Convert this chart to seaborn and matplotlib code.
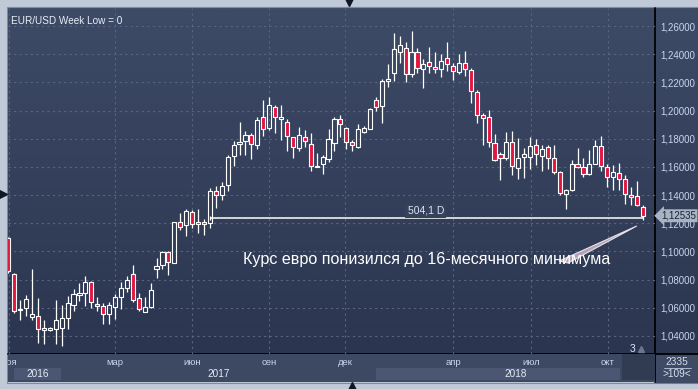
import numpy as np
import pandas as pd
import seaborn as sns
import matplotlib.pyplot as plt
from matplotlib.patches import Rectangle, Polygon
from matplotlib.colors import LinearSegmentedColormap
from matplotlib.transforms import blended_transform_factory

# weekly EUR/USD candles
opens = [
    1.1095, 1.0838, 1.0588, 1.0597, 1.0533, 1.0542, 1.0440, 1.0441, 1.0452, 1.0459,
    1.0526, 1.0618, 1.0693, 1.0707, 1.0780, 1.0626, 1.0616, 1.0554, 1.0609, 1.0675,
    1.0738, 1.0842, 1.0668, 1.0572, 1.0604, 1.0878, 1.0902, 1.0994, 1.0920, 1.1207,
    1.1187, 1.1282, 1.1197, 1.1207, 1.1200, 1.1427, 1.1398, 1.1469, 1.1675, 1.1763,
    1.1786, 1.1824, 1.1753, 1.1952, 1.1878, 1.2023, 1.1942, 1.1921, 1.1809, 1.1736,
    1.1809, 1.1760, 1.1597, 1.1618, 1.1658, 1.1768, 1.1938, 1.1874, 1.1775, 1.1743,
    1.1850, 1.1871, 1.2075, 1.2034, 1.2208, 1.2264, 1.2418, 1.2442, 1.2257, 1.2418,
    1.2293, 1.2347, 1.2311, 1.2293, 1.2371, 1.2318, 1.2276, 1.2335, 1.2288, 1.2129,
    1.1966, 1.1952, 1.1768, 1.1689, 1.1661, 1.1775, 1.1594, 1.1672, 1.1672, 1.1753,
    1.1679, 1.1739, 1.1661, 1.1566, 1.1410, 1.1438, 1.1623, 1.1600, 1.1551, 1.1624,
    1.1750, 1.1601, 1.1530, 1.1555, 1.1514, 1.1400, 1.1394, 1.1318]
closes = [
    1.0860, 1.0580, 1.0592, 1.0662, 1.0554, 1.0447, 1.0455, 1.0455, 1.0511, 1.0528,
    1.0636, 1.0696, 1.0703, 1.0780, 1.0641, 1.0611, 1.0558, 1.0618, 1.0675, 1.0738,
    1.0797, 1.0655, 1.0590, 1.0608, 1.0724, 1.0895, 1.0994, 1.0927, 1.1207, 1.1176,
    1.1286, 1.1197, 1.1207, 1.1193, 1.1427, 1.1398, 1.1467, 1.1668, 1.1753, 1.1777,
    1.1824, 1.1760, 1.1931, 1.1867, 1.2037, 1.1952, 1.1952, 1.1819, 1.1738, 1.1824,
    1.1782, 1.1609, 1.1604, 1.1668, 1.1795, 1.1938, 1.1903, 1.1775, 1.1753, 1.1867,
    1.1874, 1.2009, 1.2027, 1.2210, 1.2222, 1.2435, 1.2465, 1.2257, 1.2413, 1.2300,
    1.2328, 1.2316, 1.2295, 1.2354, 1.2328, 1.2283, 1.2335, 1.2293, 1.2139, 1.1966,
    1.1945, 1.1775, 1.1649, 1.1661, 1.1775, 1.1609, 1.1661, 1.1689, 1.1748, 1.1689,
    1.1725, 1.1661, 1.1566, 1.1413, 1.1438, 1.1623, 1.1600, 1.1551, 1.1624, 1.1747,
    1.1610, 1.1530, 1.1561, 1.1514, 1.1405, 1.1388, 1.1330, 1.12535]
highs = [
    1.1100, 1.0845, 1.0656, 1.0690, 1.0875, 1.0672, 1.0513, 1.0464, 1.0656, 1.0620,
    1.0684, 1.0731, 1.0774, 1.0826, 1.0792, 1.0675, 1.0632, 1.0643, 1.0698, 1.0781,
    1.0826, 1.0904, 1.0703, 1.0675, 1.0778, 1.0951, 1.1005, 1.1005, 1.1210, 1.1271,
    1.1298, 1.1293, 1.1298, 1.1228, 1.1448, 1.1464, 1.1491, 1.1682, 1.1784, 1.1917,
    1.1855, 1.1843, 1.1952, 1.2075, 1.2098, 1.2039, 1.2039, 1.1938, 1.1814, 1.1881,
    1.1862, 1.1838, 1.1697, 1.1685, 1.1869, 1.1952, 1.1968, 1.1886, 1.1791, 1.1905,
    1.1891, 1.2020, 1.2098, 1.2222, 1.2330, 1.2548, 1.2529, 1.2484, 1.2564, 1.2442,
    1.2364, 1.2449, 1.2418, 1.2400, 1.2484, 1.2335, 1.2401, 1.2423, 1.2300, 1.2146,
    1.1980, 1.2004, 1.1834, 1.1708, 1.1848, 1.1857, 1.1803, 1.1732, 1.1814, 1.1798,
    1.1755, 1.1753, 1.1755, 1.1570, 1.1446, 1.1650, 1.1734, 1.1660, 1.1721, 1.1788,
    1.1820, 1.1620, 1.1613, 1.1625, 1.1545, 1.1460, 1.1500, 1.1330]
lows = [
    1.0850, 1.0560, 1.0514, 1.0544, 1.0513, 1.0352, 1.0343, 1.0438, 1.0343, 1.0331,
    1.0450, 1.0577, 1.0650, 1.0613, 1.0600, 1.0580, 1.0485, 1.0485, 1.0518, 1.0594,
    1.0714, 1.0643, 1.0577, 1.0568, 1.0596, 1.0814, 1.0873, 1.0833, 1.0918, 1.1152,
    1.1108, 1.1163, 1.1129, 1.1117, 1.1164, 1.1310, 1.1365, 1.1429, 1.1606, 1.1687,
    1.1684, 1.1658, 1.1729, 1.1819, 1.1862, 1.1838, 1.1791, 1.1715, 1.1665, 1.1713,
    1.1743, 1.1571, 1.1597, 1.1550, 1.1637, 1.1715, 1.1810, 1.1727, 1.1715, 1.1736,
    1.1843, 1.1867, 1.1997, 1.1914, 1.2169, 1.2212, 1.2340, 1.2205, 1.2240, 1.2264,
    1.2158, 1.2269, 1.2264, 1.2240, 1.2281, 1.2217, 1.2259, 1.2247, 1.2056, 1.1914,
    1.1756, 1.1743, 1.1645, 1.1507, 1.1649, 1.1543, 1.1512, 1.1523, 1.1585, 1.1613,
    1.1571, 1.1583, 1.1550, 1.1400, 1.1301, 1.1429, 1.1590, 1.1527, 1.1540, 1.1620,
    1.1570, 1.1460, 1.1436, 1.1436, 1.1336, 1.1330, 1.1320, 1.1224]

price_ticks = [1.04, 1.06, 1.08, 1.10, 1.12, 1.14, 1.16, 1.18, 1.20, 1.22, 1.24, 1.26]
month_pos = [0.1, 18.0, 31.0, 44.0, 56.8, 75.0, 88.1, 101.1]
month_labels = ['ноя', 'мар', 'июн', 'сен', 'дек', 'апр', 'июл', 'окт']
year_labels = ['2016', '2017', '2018']
year_pos = [4.9, 35.5, 85.6]

last_price = 1.12535
level_price = 1.1238
level_start, level_end = 34, 107
level_label = '504,1 D'
title = 'EUR/USD Week Low = 0'
note = 'Курс евро понизился до 16-месячного минимума'

df = pd.DataFrame({'open': opens, 'high': highs, 'low': lows, 'close': closes})
df['x'] = np.arange(len(df))
df['top'] = df[['open', 'close']].max(axis=1)
df['bottom'] = df[['open', 'close']].min(axis=1)
df['up'] = df['close'] >= df['open']

sns.set_theme(style='dark')
plt.rcParams['font.family'] = ['Liberation Sans', 'DejaVu Sans']

W, H = 698, 389
fig = plt.figure(figsize=(W / 100, H / 100), dpi=100)

# background / frame in pixel coordinates
bg = fig.add_axes([0, 0, 1, 1])
bg.axis('off')
bg.add_patch(Rectangle((0, 0), W, H, color='#bfc9d7', zorder=0))
grad = np.linspace(0, 1, 256)[:, None]
cmap = LinearSegmentedColormap.from_list('panel', ['#3e4b66', '#2b3550'])
bg.imshow(grad, cmap=cmap, extent=(8, W, 354, 8), aspect='auto', zorder=1)
bg.add_patch(Rectangle((7, 7), W - 6, 376, fill=False, ec='#7f8a9c', lw=0.8, zorder=2))
bg.add_patch(Rectangle((655, 354), 43, 28, color='#3f4b64', zorder=2))
bg.plot([655, 655], [8, 382], color='black', lw=1.3, zorder=5)
bg.plot([8, W], [354, 354], color='black', lw=1.3, zorder=5)
bg.text(677, 362, '2335', color='#d3def0', fontsize=7.3, ha='center', va='center', zorder=6)
bg.plot([664, 691], [367.5, 367.5], color='#c0cbe0', lw=0.6, zorder=6)
bg.text(677, 374, '>109<', color='#d3def0', fontsize=7.3, ha='center', va='center', zorder=6)
bg.text(633, 349, '3', color='#dfe6f2', fontsize=7.5, ha='center', va='center', zorder=6)
bg.plot([641], [348.5], marker='^', ms=5, color='#6b778e', zorder=6)
bg.plot([349], [1.5], marker='v', ms=6, color='#101623', zorder=6)
bg.plot([352], [386], marker='^', ms=6, color='#101623', zorder=6)
bg.plot([3], [194], marker='>', ms=6, color='#101623', zorder=6)
bg.set_xlim(0, W)
bg.set_ylim(H, 0)

# main price axes
ax = fig.add_axes([8 / W, 1 - 354 / H, 647 / W, 346 / H])
ax.set_facecolor('none')
for s in ax.spines.values():
    s.set_visible(False)

colors = np.where(df['up'], 'none', '#e3163f')
ax.vlines(df['x'], df['top'], df['high'], color='white', lw=0.9, zorder=3)
ax.vlines(df['x'], df['low'], df['bottom'], color='white', lw=0.9, zorder=3)
ax.bar(df['x'], df['top'] - df['bottom'], bottom=df['bottom'], width=0.7,
       color=colors, edgecolor='white', linewidth=0.8, zorder=4)

ax.hlines(level_price, level_start, level_end, color='white', lw=1.1, zorder=5)
ax.vlines(level_start, level_price - 0.0015, level_price + 0.0015, color='white', lw=0.9, zorder=5)
ax.text((level_start + level_end) / 2 - 0.1, level_price + 0.0050, level_label,
        color='#dbe4f3', fontsize=7.5, ha='center', va='center', zorder=6,
        bbox=dict(boxstyle='square,pad=0.2', fc='#36425b', ec='none'))

ax.set_xlim(-0.05, 109.06)
ax.set_ylim(1.02722, 1.27278)
ax.set_xticks(month_pos)
ax.set_yticks(price_ticks)
ax.yaxis.tick_right()
ax.set_yticklabels([f'{v:.5f}'.replace('.', ',') for v in price_ticks])
ax.tick_params(axis='y', length=0, pad=4, labelsize=7, labelcolor='#c9d6ee')
ax.tick_params(axis='x', length=0, labelbottom=False)
ax.grid(True, color='#59657e', linestyle=(0, (2, 3)), linewidth=0.8)
ax.set_axisbelow(True)

ax.text(0.004, 0.962, title, transform=ax.transAxes, color='#e8eef7',
        fontsize=7.2, ha='left', va='center')

trans = blended_transform_factory(ax.transAxes, ax.transData)
ax.text(1.0095, last_price, f'{last_price:.5f}'.replace('.', ','), transform=trans,
        color='#1a2236', fontsize=7, ha='left', va='center', clip_on=False, zorder=7,
        bbox=dict(boxstyle='larrow,pad=0.15', fc='#a8b3c4', ec='none'))

# annotation
ax.add_patch(Polygon([(106.0, 1.1181), (92.9, 1.0932), (94.4, 1.0918)],
                     closed=True, fc='#b3a2b5', ec='#e8e2ea', lw=0.8, zorder=6))
ax.text(39.6, 1.0946, note, color='white', fontsize=11.6, ha='left', va='center', zorder=7)

# date band
axb = fig.add_axes([8 / W, 1 - 382 / H, 647 / W, 28 / H], sharex=ax)
axb.set_facecolor('#3d4862')
axb.set_ylim(0, 1)
axb.axis('off')
axb.add_patch(Rectangle((-0.05, 0), 109.2, 1, color='#3d4862', zorder=0))
axb.axvspan(0.96, 8.9, ymin=0.07, ymax=0.5, color='#4b5772', lw=0, zorder=1)
axb.axvspan(62.0, 103.2, ymin=0.07, ymax=0.5, color='#4b5772', lw=0, zorder=1)
axb.axvspan(103.5, 109.06, ymin=0.07, ymax=1.0, color='#313b51', lw=0, zorder=1)
for p, lab in zip(month_pos, month_labels):
    axb.text(p, 0.69, lab, color='#c9d5ea', fontsize=6.8, ha='center', va='center', clip_on=True, zorder=2)
for p, lab in zip(year_pos, year_labels):
    axb.text(p, 0.29, lab, color='#e6ecf6', fontsize=7.2, ha='center', va='center', zorder=2)

fig.savefig('out.png', dpi=100)
